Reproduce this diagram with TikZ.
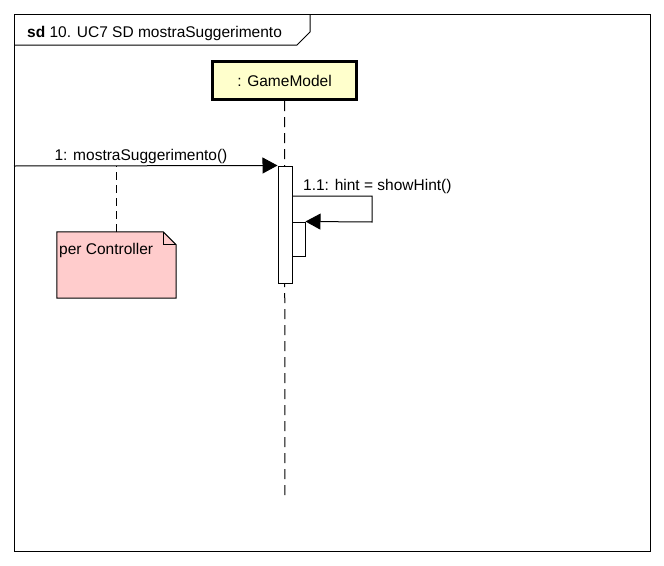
\documentclass[tikz,border=0pt]{standalone}
\usepackage{fontspec}
\setmainfont{Liberation Sans}
\usetikzlibrary{arrows.meta,calc}
\definecolor{lifefill}{HTML}{FFFFCC}
\definecolor{notefill}{HTML}{FFCCCC}
\tikzset{
  thinline/.style={line width=1pt, draw=black},
  lbl/.style={font=\fontsize{15.5}{18}\selectfont, inner sep=0pt},
  actbox/.style={thinline, fill=white, inner sep=0pt},
  msgarrow/.style={thinline, -{Triangle[length=15pt,width=16pt]}},
  lifedash/.style={thinline, dash pattern=on 10pt off 6pt},
  notedash/.style={thinline, dash pattern=on 8pt off 5pt}
}
\begin{document}
\begin{tikzpicture}[x=1pt,y=-1pt]
\useasboundingbox (0,0) rectangle (664,565);
% frame
\draw[thinline] (14,14) rectangle (650,551);
\draw[thinline] (14,45) -- (297,45) -- (310,32) -- (310,14);
\node[lbl, anchor=base west] (title) at (27,37) {\textbf{sd} 10. UC7 SD mostraSuggerimento};
% lifeline head
\node[draw, line width=3pt, fill=lifefill, minimum width=144pt, minimum height=38pt, inner sep=0pt, font=\fontsize{15.5}{18}\selectfont] (gm) at (284.5,80.5) {: GameModel};
\coordinate (llend) at (285,500);
\draw[lifedash] (gm.south) -- (llend);
% activations
\node[actbox, minimum width=14pt, minimum height=117pt] (act) at (285,224.5) {};
\node[actbox, minimum width=13pt, minimum height=34pt] (nact) at (298.5,239) {};
% message 1
\coordinate (m1s) at (14,166);
\draw[msgarrow] (m1s) -- (act.north west);
\node[lbl, anchor=base] (m1l) at (141,160) {1: mostraSuggerimento()};
% self message
\coordinate (s1) at (292,196);
\coordinate (s2) at (372,196);
\coordinate (s3) at (372,222);
\draw[msgarrow] (s1) -- (s2) -- (s3) -- (nact.north east);
\node[lbl, anchor=base west] (s1l) at (303,190) {1.1: hint = showHint()};
% note
\node[minimum width=119pt, minimum height=66pt, inner sep=0pt] (note) at (116.5,265) {};
\draw[thinline, fill=notefill] (note.north west) -- ($(note.north east)+(-13,0)$) -- ($(note.north east)+(0,13)$) -- (note.south east) -- (note.south west) -- cycle;
\draw[thinline] ($(note.north east)+(-13,0)$) -- ($(note.north east)+(-13,13)$) -- ($(note.north east)+(0,13)$);
\node[lbl, anchor=base west] (notetext) at (59,254) {per Controller};
\draw[notedash] (note.north) -- (note.north |- m1s);
\end{tikzpicture}
\end{document}
